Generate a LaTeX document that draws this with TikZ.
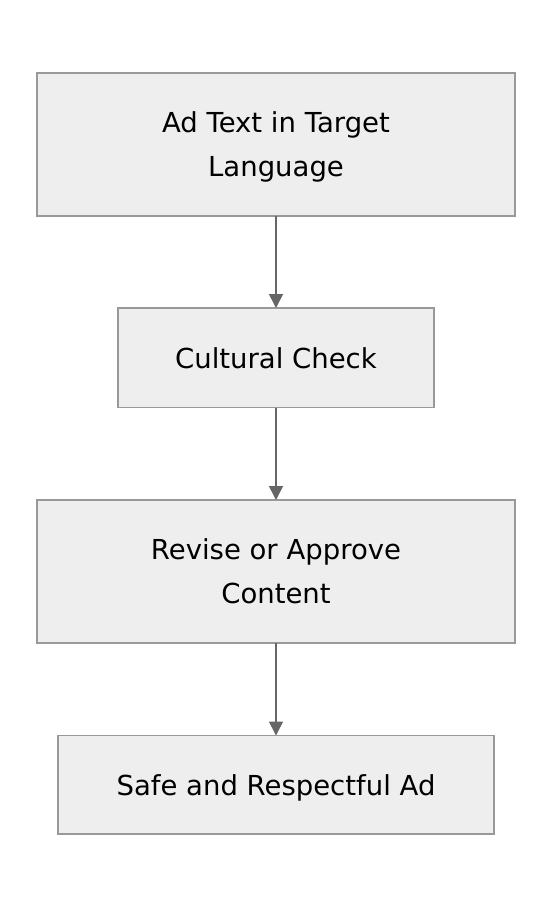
\documentclass[tikz,border=0pt]{standalone}
\usepackage{fontspec}
\setmainfont{DejaVu Sans}
\usetikzlibrary{arrows.meta}
\definecolor{boxfill}{HTML}{EEEEEE}
\definecolor{boxline}{HTML}{999999}
\definecolor{arrowcol}{HTML}{666666}
\tikzset{
  stepbox/.style={draw=boxline, fill=boxfill, line width=1.3pt, align=center,
    font=\fontsize{27.5}{44}\selectfont, inner sep=0pt, outer sep=0pt, text depth=0pt},
  flowarrow/.style={draw=arrowcol, line width=1.6pt,
    -{Triangle[width=14pt,length=14pt]}}
}
\begin{document}
\begin{tikzpicture}[x=1pt,y=1pt]
\useasboundingbox (0,0) rectangle (552,-908);
\fill[white] (0,0) rectangle (552,-908);
\node[stepbox, minimum width=478pt, minimum height=143pt] (a) at (276,-144.5) {Ad Text in Target\\Language};
\node[stepbox, minimum width=316pt, minimum height=99.5pt] (b) at (276,-357.75) {Cultural Check};
\node[stepbox, minimum width=478pt, minimum height=143pt] (c) at (276,-571.5) {Revise or Approve\\Content};
\node[stepbox, minimum width=436pt, minimum height=98.5pt] (d) at (276,-784.75) {Safe and Respectful Ad};
\draw[flowarrow] (a.south) -- (b.north);
\draw[flowarrow] (b.south) -- (c.north);
\draw[flowarrow] (c.south) -- (d.north);
\end{tikzpicture}
\end{document}
